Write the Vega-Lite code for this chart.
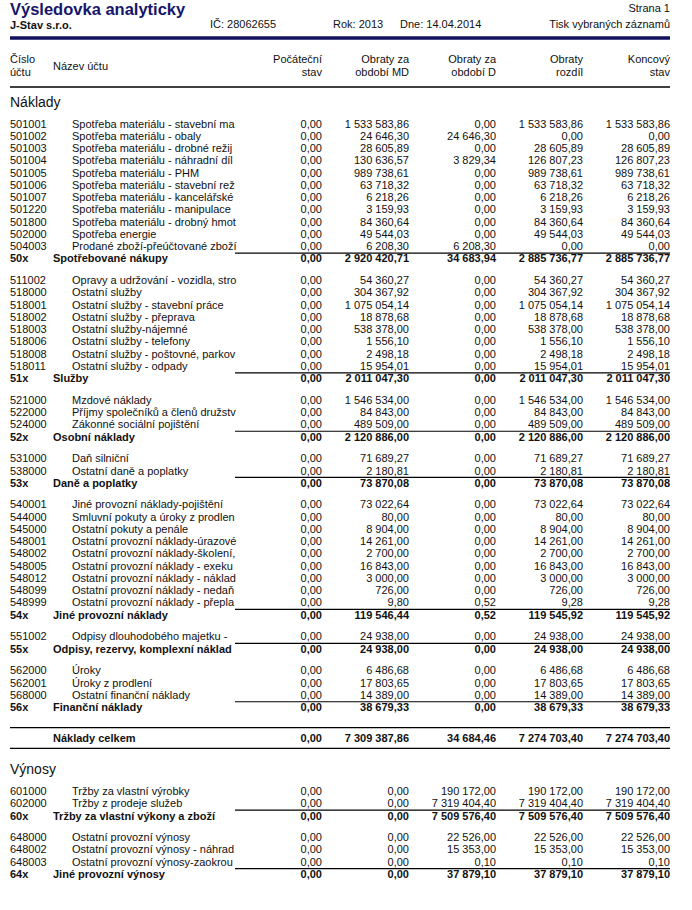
{
  "$schema": "https://vega.github.io/schema/vega-lite/v6.json",
  "width": 692,
  "height": 910,
  "padding": 0,
  "autosize": {"type": "none"},
  "background": "#ffffff",
  "config": {
    "view": {"stroke": null},
    "locale": {"number": {"decimal": ",", "thousands": " ", "grouping": [3], "currency": ["", ""]}},
    "text": {"font": "Liberation Sans", "fontSize": 11, "baseline": "middle", "color": "#111111"}
  },
  "datasets": {
    "rows": [
      {"r": -1, "g": -1, "type": "section", "ucet": "", "nazev": "Náklady"},
      {"r": 0, "g": 0, "type": "detail", "ucet": "501001", "nazev": "Spotřeba materiálu - stavební materiál", "poc": 0, "md": 1533583.86, "d": 0, "roz": 1533583.86, "kon": 1533583.86},
      {"r": 1, "g": 0, "type": "detail", "ucet": "501002", "nazev": "Spotřeba materiálu - obaly", "poc": 0, "md": 24646.30, "d": 24646.30, "roz": 0, "kon": 0},
      {"r": 2, "g": 0, "type": "detail", "ucet": "501003", "nazev": "Spotřeba materiálu - drobné režijní", "poc": 0, "md": 28605.89, "d": 0, "roz": 28605.89, "kon": 28605.89},
      {"r": 3, "g": 0, "type": "detail", "ucet": "501004", "nazev": "Spotřeba materiálu - náhradní díly", "poc": 0, "md": 130636.57, "d": 3829.34, "roz": 126807.23, "kon": 126807.23},
      {"r": 4, "g": 0, "type": "detail", "ucet": "501005", "nazev": "Spotřeba materiálu - PHM", "poc": 0, "md": 989738.61, "d": 0, "roz": 989738.61, "kon": 989738.61},
      {"r": 5, "g": 0, "type": "detail", "ucet": "501006", "nazev": "Spotřeba materiálu - stavební režie", "poc": 0, "md": 63718.32, "d": 0, "roz": 63718.32, "kon": 63718.32},
      {"r": 6, "g": 0, "type": "detail", "ucet": "501007", "nazev": "Spotřeba materiálu - kancelářské potřeby", "poc": 0, "md": 6218.26, "d": 0, "roz": 6218.26, "kon": 6218.26},
      {"r": 7, "g": 0, "type": "detail", "ucet": "501220", "nazev": "Spotřeba materiálu - manipulace", "poc": 0, "md": 3159.93, "d": 0, "roz": 3159.93, "kon": 3159.93},
      {"r": 8, "g": 0, "type": "detail", "ucet": "501800", "nazev": "Spotřeba materiálu - drobný hmotný majetek", "poc": 0, "md": 84360.64, "d": 0, "roz": 84360.64, "kon": 84360.64},
      {"r": 9, "g": 0, "type": "detail", "ucet": "502000", "nazev": "Spotřeba energie", "poc": 0, "md": 49544.03, "d": 0, "roz": 49544.03, "kon": 49544.03},
      {"r": 10, "g": 0, "type": "detail", "ucet": "504003", "nazev": "Prodané zboží-přeúčtované zboží", "poc": 0, "md": 6208.30, "d": 6208.30, "roz": 0, "kon": 0},
      {"r": 11, "g": 0, "type": "sub", "ucet": "50x", "nazev": "Spotřebované nákupy", "poc": 0, "md": 2920420.71, "d": 34683.94, "roz": 2885736.77, "kon": 2885736.77},
      {"r": 12, "g": 1, "type": "detail", "ucet": "511002", "nazev": "Opravy a udržování - vozidla, stroje", "poc": 0, "md": 54360.27, "d": 0, "roz": 54360.27, "kon": 54360.27},
      {"r": 13, "g": 1, "type": "detail", "ucet": "518000", "nazev": "Ostatní služby", "poc": 0, "md": 304367.92, "d": 0, "roz": 304367.92, "kon": 304367.92},
      {"r": 14, "g": 1, "type": "detail", "ucet": "518001", "nazev": "Ostatní služby - stavební práce", "poc": 0, "md": 1075054.14, "d": 0, "roz": 1075054.14, "kon": 1075054.14},
      {"r": 15, "g": 1, "type": "detail", "ucet": "518002", "nazev": "Ostatní služby -  přeprava", "poc": 0, "md": 18878.68, "d": 0, "roz": 18878.68, "kon": 18878.68},
      {"r": 16, "g": 1, "type": "detail", "ucet": "518003", "nazev": "Ostatní služby-nájemné", "poc": 0, "md": 538378.00, "d": 0, "roz": 538378.00, "kon": 538378.00},
      {"r": 17, "g": 1, "type": "detail", "ucet": "518006", "nazev": "Ostatní služby - telefony", "poc": 0, "md": 1556.10, "d": 0, "roz": 1556.10, "kon": 1556.10},
      {"r": 18, "g": 1, "type": "detail", "ucet": "518008", "nazev": "Ostatní služby - poštovné, parkovné", "poc": 0, "md": 2498.18, "d": 0, "roz": 2498.18, "kon": 2498.18},
      {"r": 19, "g": 1, "type": "detail", "ucet": "518011", "nazev": "Ostatní služby - odpady", "poc": 0, "md": 15954.01, "d": 0, "roz": 15954.01, "kon": 15954.01},
      {"r": 20, "g": 1, "type": "sub", "ucet": "51x", "nazev": "Služby", "poc": 0, "md": 2011047.30, "d": 0, "roz": 2011047.30, "kon": 2011047.30},
      {"r": 21, "g": 2, "type": "detail", "ucet": "521000", "nazev": "Mzdové náklady", "poc": 0, "md": 1546534.00, "d": 0, "roz": 1546534.00, "kon": 1546534.00},
      {"r": 22, "g": 2, "type": "detail", "ucet": "522000", "nazev": "Příjmy společníků a členů družstva", "poc": 0, "md": 84843.00, "d": 0, "roz": 84843.00, "kon": 84843.00},
      {"r": 23, "g": 2, "type": "detail", "ucet": "524000", "nazev": "Zákonné sociální pojištění", "poc": 0, "md": 489509.00, "d": 0, "roz": 489509.00, "kon": 489509.00},
      {"r": 24, "g": 2, "type": "sub", "ucet": "52x", "nazev": "Osobní náklady", "poc": 0, "md": 2120886.00, "d": 0, "roz": 2120886.00, "kon": 2120886.00},
      {"r": 25, "g": 3, "type": "detail", "ucet": "531000", "nazev": "Daň silniční", "poc": 0, "md": 71689.27, "d": 0, "roz": 71689.27, "kon": 71689.27},
      {"r": 26, "g": 3, "type": "detail", "ucet": "538000", "nazev": "Ostatní daně a poplatky", "poc": 0, "md": 2180.81, "d": 0, "roz": 2180.81, "kon": 2180.81},
      {"r": 27, "g": 3, "type": "sub", "ucet": "53x", "nazev": "Daně a poplatky", "poc": 0, "md": 73870.08, "d": 0, "roz": 73870.08, "kon": 73870.08},
      {"r": 28, "g": 4, "type": "detail", "ucet": "540001", "nazev": "Jiné provozní náklady-pojištění", "poc": 0, "md": 73022.64, "d": 0, "roz": 73022.64, "kon": 73022.64},
      {"r": 29, "g": 4, "type": "detail", "ucet": "544000", "nazev": "Smluvní pokuty a úroky z prodlení", "poc": 0, "md": 80.00, "d": 0, "roz": 80.00, "kon": 80.00},
      {"r": 30, "g": 4, "type": "detail", "ucet": "545000", "nazev": "Ostatní pokuty a penále", "poc": 0, "md": 8904.00, "d": 0, "roz": 8904.00, "kon": 8904.00},
      {"r": 31, "g": 4, "type": "detail", "ucet": "548001", "nazev": "Ostatní provozní náklady-úrazové", "poc": 0, "md": 14261.00, "d": 0, "roz": 14261.00, "kon": 14261.00},
      {"r": 32, "g": 4, "type": "detail", "ucet": "548002", "nazev": "Ostatní provozní náklady-školení, kurzy", "poc": 0, "md": 2700.00, "d": 0, "roz": 2700.00, "kon": 2700.00},
      {"r": 33, "g": 4, "type": "detail", "ucet": "548005", "nazev": "Ostatní provozní náklady - exekuce", "poc": 0, "md": 16843.00, "d": 0, "roz": 16843.00, "kon": 16843.00},
      {"r": 34, "g": 4, "type": "detail", "ucet": "548012", "nazev": "Ostatní provozní náklady - náklady", "poc": 0, "md": 3000.00, "d": 0, "roz": 3000.00, "kon": 3000.00},
      {"r": 35, "g": 4, "type": "detail", "ucet": "548099", "nazev": "Ostatní provozní náklady - nedaňové", "poc": 0, "md": 726.00, "d": 0, "roz": 726.00, "kon": 726.00},
      {"r": 36, "g": 4, "type": "detail", "ucet": "548999", "nazev": "Ostatní provozní náklady - přeplatky", "poc": 0, "md": 9.80, "d": 0.52, "roz": 9.28, "kon": 9.28},
      {"r": 37, "g": 4, "type": "sub", "ucet": "54x", "nazev": "Jiné provozní náklady", "poc": 0, "md": 119546.44, "d": 0.52, "roz": 119545.92, "kon": 119545.92},
      {"r": 38, "g": 5, "type": "detail", "ucet": "551002", "nazev": "Odpisy dlouhodobého  majetku - ", "poc": 0, "md": 24938.00, "d": 0, "roz": 24938.00, "kon": 24938.00},
      {"r": 39, "g": 5, "type": "sub", "ucet": "55x", "nazev": "Odpisy, rezervy, komplexní náklady", "poc": 0, "md": 24938.00, "d": 0, "roz": 24938.00, "kon": 24938.00},
      {"r": 40, "g": 6, "type": "detail", "ucet": "562000", "nazev": "Úroky", "poc": 0, "md": 6486.68, "d": 0, "roz": 6486.68, "kon": 6486.68},
      {"r": 41, "g": 6, "type": "detail", "ucet": "562001", "nazev": "Úroky z prodlení", "poc": 0, "md": 17803.65, "d": 0, "roz": 17803.65, "kon": 17803.65},
      {"r": 42, "g": 6, "type": "detail", "ucet": "568000", "nazev": "Ostatní finanční náklady", "poc": 0, "md": 14389.00, "d": 0, "roz": 14389.00, "kon": 14389.00},
      {"r": 43, "g": 6, "type": "sub", "ucet": "56x", "nazev": "Finanční náklady", "poc": 0, "md": 38679.33, "d": 0, "roz": 38679.33, "kon": 38679.33},
      {"r": 44, "g": 8, "type": "total", "ucet": "", "nazev": "Náklady celkem", "poc": 0, "md": 7309387.86, "d": 34684.46, "roz": 7274703.40, "kon": 7274703.40},
      {"r": 45, "g": 10, "type": "section", "ucet": "", "nazev": "Výnosy"},
      {"r": 46, "g": 11, "type": "detail", "ucet": "601000", "nazev": "Tržby za vlastní výrobky", "poc": 0, "md": 0, "d": 190172.00, "roz": 190172.00, "kon": 190172.00},
      {"r": 47, "g": 11, "type": "detail", "ucet": "602000", "nazev": "Tržby z prodeje služeb", "poc": 0, "md": 0, "d": 7319404.40, "roz": 7319404.40, "kon": 7319404.40},
      {"r": 48, "g": 11, "type": "sub", "ucet": "60x", "nazev": "Tržby za vlastní výkony a zboží", "poc": 0, "md": 0, "d": 7509576.40, "roz": 7509576.40, "kon": 7509576.40},
      {"r": 49, "g": 12, "type": "detail", "ucet": "648000", "nazev": "Ostatní provozní výnosy", "poc": 0, "md": 0, "d": 22526.00, "roz": 22526.00, "kon": 22526.00},
      {"r": 50, "g": 12, "type": "detail", "ucet": "648002", "nazev": "Ostatní provozní výnosy - náhrady", "poc": 0, "md": 0, "d": 15353.00, "roz": 15353.00, "kon": 15353.00},
      {"r": 51, "g": 12, "type": "detail", "ucet": "648003", "nazev": "Ostatní provozní výnosy-zaokrouhlení", "poc": 0, "md": 0, "d": 0.10, "roz": 0.10, "kon": 0.10},
      {"r": 52, "g": 12, "type": "sub", "ucet": "64x", "nazev": "Jiné provozní výnosy", "poc": 0, "md": 0, "d": 37879.10, "roz": 37879.10, "kon": 37879.10}
    ],
    "cols": [
      {"col": "poc", "h": ["Počáteční", "stav"]},
      {"col": "md", "h": ["Obraty za", "období MD"]},
      {"col": "d", "h": ["Obraty za", "období D"]},
      {"col": "roz", "h": ["Obraty", "rozdíl"]},
      {"col": "kon", "h": ["Koncový", "stav"]}
    ]
  },
  "layer": [
    {
      "data": {"values": [{"t": "Výsledovka analyticky"}]},
      "mark": {"type": "text", "align": "left", "fontSize": 16.5, "fontWeight": "bold", "color": "#16166a"},
      "encoding": {"text": {"field": "t"}, "x": {"value": 10}, "y": {"datum": -9.36, "type": "quantitative", "scale": {"domain": [-10.18, 64.1], "range": [0, 910], "nice": false, "zero": false}, "axis": null}}
    },
    {
      "data": {"values": [{"t": "J-Stav s.r.o."}]},
      "mark": {"type": "text", "align": "left", "fontSize": 11, "fontWeight": "bold", "color": "#111111"},
      "encoding": {"text": {"field": "t"}, "x": {"value": 10}, "y": {"datum": -8.06, "type": "quantitative"}}
    },
    {
      "data": {"values": [{"t": "IČ: 28062655"}]},
      "mark": {"type": "text", "align": "left", "color": "#111111"},
      "encoding": {"text": {"field": "t"}, "x": {"value": 210}, "y": {"datum": -8.1, "type": "quantitative"}}
    },
    {
      "data": {"values": [{"t": "Rok: 2013"}]},
      "mark": {"type": "text", "align": "left", "color": "#111111"},
      "encoding": {"text": {"field": "t"}, "x": {"value": 333}, "y": {"datum": -8.1, "type": "quantitative"}}
    },
    {
      "data": {"values": [{"t": "Dne: 14.04.2014"}]},
      "mark": {"type": "text", "align": "left", "color": "#111111"},
      "encoding": {"text": {"field": "t"}, "x": {"value": 400}, "y": {"datum": -8.1, "type": "quantitative"}}
    },
    {
      "data": {"values": [{"t": "Strana 1"}]},
      "mark": {"type": "text", "align": "right", "color": "#111111"},
      "encoding": {"text": {"field": "t"}, "x": {"value": 670}, "y": {"datum": -9.45, "type": "quantitative"}}
    },
    {
      "data": {"values": [{"t": "Tisk vybraných záznamů"}]},
      "mark": {"type": "text", "align": "right", "color": "#111111"},
      "encoding": {"text": {"field": "t"}, "x": {"value": 670}, "y": {"datum": -8.1, "type": "quantitative"}}
    },
    {
      "data": {"values": [{}]},
      "mark": {"type": "rule", "color": "#12125e", "strokeWidth": 3.5},
      "encoding": {"x": {"value": 10}, "x2": {"value": 670}, "y": {"datum": -7.08, "type": "quantitative"}}
    },
    {
      "data": {"values": [{"t": ["Číslo", "účtu"]}]},
      "mark": {"type": "text", "align": "left", "lineHeight": 13, "color": "#111111"},
      "encoding": {"text": {"field": "t"}, "x": {"value": 10}, "y": {"datum": -5.28, "type": "quantitative"}}
    },
    {
      "data": {"values": [{"t": "Název účtu"}]},
      "mark": {"type": "text", "align": "left", "color": "#111111"},
      "encoding": {"text": {"field": "t"}, "x": {"value": 53}, "y": {"datum": -4.75, "type": "quantitative"}}
    },
    {
      "data": {"name": "cols"},
      "mark": {"type": "text", "align": "right", "lineHeight": 13, "color": "#111111"},
      "encoding": {
        "text": {"field": "h"},
        "x": {"field": "col", "type": "nominal", "scale": {"type": "point", "domain": ["start", "poc", "md", "d", "roz", "kon"], "range": [235, 670], "padding": 0}, "axis": null},
        "y": {"datum": -5.28, "type": "quantitative"}
      }
    },
    {
      "data": {"values": [{}]},
      "mark": {"type": "rule", "color": "#000000", "strokeWidth": 1.5},
      "encoding": {"x": {"value": 10}, "x2": {"value": 670}, "y": {"datum": -3.08, "type": "quantitative"}}
    },
    {
      "data": {"name": "rows"},
      "transform": [
        {"calculate": "datum.r + 0.77 * datum.g", "as": "ypos"}
      ],
      "layer": [
        {
          "transform": [{"filter": "datum.type === 'section'"}],
          "mark": {"type": "text", "align": "left", "fontSize": 14, "color": "#111111"},
          "encoding": {"text": {"field": "nazev"}, "x": {"value": 10}, "y": {"field": "ypos", "type": "quantitative"}}
        },
        {
          "transform": [{"filter": "datum.type === 'detail'"}],
          "mark": {"type": "text", "align": "left", "color": "#111111"},
          "encoding": {"text": {"field": "ucet"}, "x": {"value": 10}, "y": {"field": "ypos", "type": "quantitative"}}
        },
        {
          "transform": [{"filter": "datum.type === 'detail'"}],
          "mark": {"type": "text", "align": "left", "limit": 165, "ellipsis": "\u200b", "color": "#111111"},
          "encoding": {"text": {"field": "nazev"}, "x": {"value": 72}, "y": {"field": "ypos", "type": "quantitative"}}
        },
        {
          "transform": [{"filter": "datum.type === 'sub'"}],
          "mark": {"type": "text", "align": "left", "fontWeight": "bold", "color": "#111111"},
          "encoding": {"text": {"field": "ucet"}, "x": {"value": 10}, "y": {"field": "ypos", "type": "quantitative"}}
        },
        {
          "transform": [{"filter": "datum.type === 'sub' || datum.type === 'total'"}],
          "mark": {"type": "text", "align": "left", "fontWeight": "bold", "limit": 184, "ellipsis": "\u200b", "color": "#111111"},
          "encoding": {"text": {"field": "nazev"}, "x": {"value": 53}, "y": {"field": "ypos", "type": "quantitative"}}
        },
        {
          "transform": [
            {"filter": "datum.type === 'detail'"},
            {"fold": ["poc", "md", "d", "roz", "kon"], "as": ["col", "val"]}
          ],
          "mark": {"type": "text", "align": "right", "color": "#111111"},
          "encoding": {
            "text": {"field": "val", "type": "quantitative", "format": ",.2f"},
            "x": {"field": "col", "type": "nominal"},
            "y": {"field": "ypos", "type": "quantitative"}
          }
        },
        {
          "transform": [
            {"filter": "datum.type === 'sub' || datum.type === 'total'"},
            {"fold": ["poc", "md", "d", "roz", "kon"], "as": ["col", "val"]}
          ],
          "mark": {"type": "text", "align": "right", "fontWeight": "bold", "color": "#111111"},
          "encoding": {
            "text": {"field": "val", "type": "quantitative", "format": ",.2f"},
            "x": {"field": "col", "type": "nominal"},
            "y": {"field": "ypos", "type": "quantitative"}
          }
        },
        {
          "transform": [
            {"filter": "datum.type === 'sub'"},
            {"calculate": "datum.ypos - 0.52", "as": "yl"}
          ],
          "mark": {"type": "rule", "color": "#000000", "strokeWidth": 1.2},
          "encoding": {
            "x": {"datum": "start", "type": "nominal"},
            "x2": {"datum": "kon"},
            "y": {"field": "yl", "type": "quantitative"}
          }
        },
        {
          "transform": [
            {"filter": "datum.type === 'total'"},
            {"calculate": "datum.ypos - 0.95", "as": "yl"}
          ],
          "mark": {"type": "rule", "color": "#000000", "strokeWidth": 1.2},
          "encoding": {"x": {"value": 10}, "x2": {"value": 670}, "y": {"field": "yl", "type": "quantitative"}}
        },
        {
          "transform": [
            {"filter": "datum.type === 'total'"},
            {"calculate": "datum.ypos + 0.75", "as": "yl"}
          ],
          "mark": {"type": "rule", "color": "#000000", "strokeWidth": 1.2},
          "encoding": {"x": {"value": 10}, "x2": {"value": 670}, "y": {"field": "yl", "type": "quantitative"}}
        }
      ]
    }
  ]
}
